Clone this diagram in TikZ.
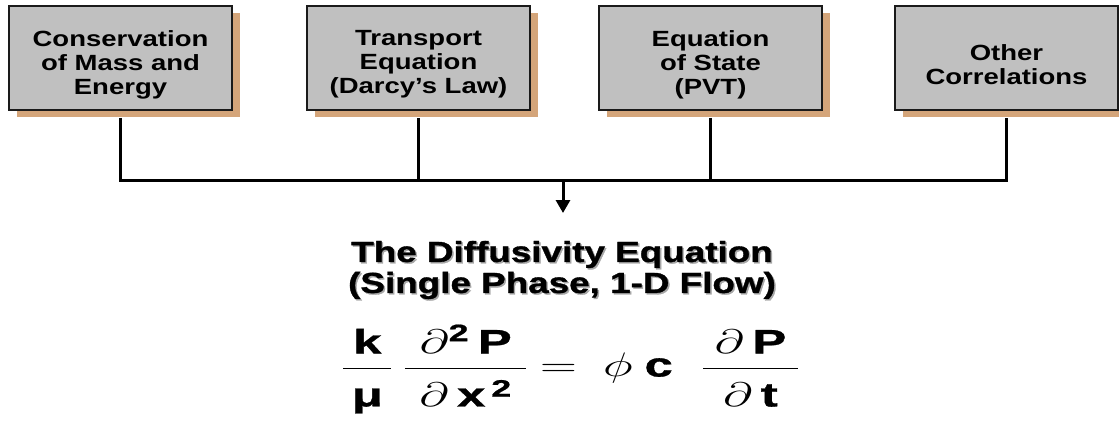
\RequirePackage{fix-cm}
\documentclass[tikz,border=0pt]{standalone}
\usepackage{amsmath}
\usepackage{graphicx}
\usepackage{fontspec}
\setmainfont{Liberation Sans}[FakeStretch=1.25]
\newfontfamily\headfont{Liberation Sans}[FakeStretch=1.27,FakeBold=1.2]
\newfontfamily\eqfont{Liberation Sans}[FakeBold=0.8]
\definecolor{dfInk}{HTML}{1A1A1A}
\definecolor{dfBox}{HTML}{C0C0C0}
\definecolor{dfShadow}{HTML}{D4A57A}
\usetikzlibrary{arrows.meta,shadows}

\begin{document}
\begin{tikzpicture}[x=1pt,y=-1pt,
                    wire/.style={draw=black,line width=3pt},
                    every node/.style={align=center,text=black},
                    boxtext/.style={yshift=-6.5pt,inner sep=0pt,
                                    font=\bfseries\fontsize{22}{24}\selectfont},
                    headtext/.style={font=\headfont\bfseries\fontsize{29}{31}\selectfont},
                    feeder/.style={draw=dfInk,line width=1.5pt,fill=dfBox,
                                   minimum width=223pt,minimum height=104pt,inner sep=0pt,
                                   drop shadow={shadow xshift=8pt,shadow yshift=-7pt,
                                                fill=dfShadow,opacity=1}}]
  \useasboundingbox (0,0) rectangle (1119,421);
  % the four ingredients
  \node[feeder,label={[boxtext]center:{Conservation\\of Mass and\\Energy}}] (mass) at (120.5,58) {};
  \node[feeder,label={[boxtext]center:{Transport\\Equation\\(Darcy’s Law)}}] (darcy) at (418.5,58) {};
  \node[feeder,label={[boxtext]center:{Equation\\of State\\(PVT)}}] (pvt) at (710.5,58) {};
  \node[feeder,label={[boxtext]center:{Other\\Correlations}}] (other) at (1006.5,58) {};
  % what they give
  \node[headtext,text=black!35] (titleshade) at (563.5,271.5)
    {The Diffusivity Equation\\(Single Phase, 1-D Flow)};
  \node[headtext] (title) at (562,270)
    {The Diffusivity Equation\\(Single Phase, 1-D Flow)};
  \node[anchor=base,font=\eqfont\bfseries\fontsize{34}{40}\selectfont] (law) at (570.5,376.5)
    {\scalebox{1.5}[1]{$\dfrac{\makebox[32pt]{\text{k}}}{\rule{0pt}{35pt}\text{μ}}\hspace{6.7pt}
      \dfrac{\makebox[81pt]{$\partial^{\text{2}}\,\text{P}$}}{\rule{0pt}{35pt}\partial\,\text{x}^{\,\text{2}}}
      \hspace{-1.5pt}=\hspace{8pt}
      \phi\hspace{8pt}\text{c}\hspace{19pt}
      \dfrac{\makebox[63pt]{$\partial\,\text{P}$}}{\rule{0pt}{35pt}\partial\,\text{t}}$}};
  % bus
  \coordinate (bus) at (563,180);
  \coordinate (drop) at (563,213);
  \draw[wire] ([yshift=-7pt]mass.south) |- (bus) -| ([yshift=-7pt]other.south);
  \draw[wire] ([yshift=-7pt]darcy.south) -- (darcy.south |- bus);
  \draw[wire] ([yshift=-7pt]pvt.south) -- (pvt.south |- bus);
  \draw[wire,-{Triangle[width=14pt,length=13pt]}] (bus) -- (drop);
\end{tikzpicture}
\end{document}
